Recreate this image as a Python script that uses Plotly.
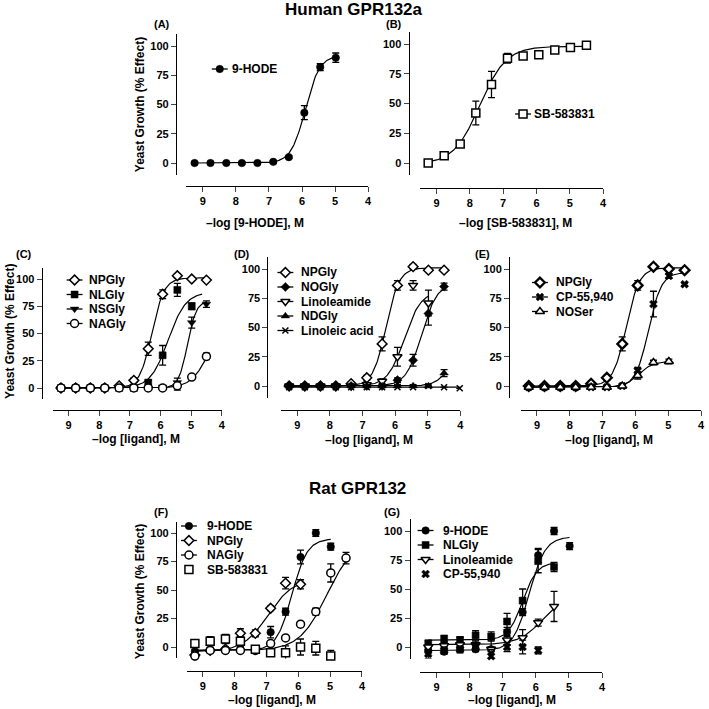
import numpy as np
import plotly.graph_objects as go

W, H = 709, 709
FONT = "Liberation Sans, Arial, sans-serif"

# -log[ligand] (M), 3-fold dilution series
log_conc = [9.25, 8.77, 8.29, 7.82, 7.35, 6.87, 6.40, 5.93, 5.45, 4.98, 4.50]
log_conc_la = [9.25, 8.77, 8.29, 7.82, 7.35, 6.87, 6.40, 5.93, 5.45, 4.98, 4.50, 4.02]

# Human GPR132a
# (A)
a_hode = [0, 0, 0, 0, 0, 1, 5, 43, 82, 90]
a_hode_err = [1, 1, 1, 1, 1, 1, 1, 6, 3, 4]
# (B)
b_sb = [0, 6, 16, 42, 66, 88, 90, 91, 95, 97, 99]
b_sb_err = [1, 1, 2, 10, 11, 4, 2, 2, 2, 2, 2]
# (C)
c_npgly = [0, 0, 0, 0, 2, 7, 36, 86, 103, 100, 99]
c_npgly_err = [1, 1, 1, 1, 1, 2, 6, 4, 2, 1, 1]
c_nlgly = [0, 0, 0, 0, 0, 0, 5, 30, 90, 75]
c_nlgly_err = [1, 1, 1, 1, 1, 1, 2, 9, 6, 3]
c_nsgly = [0, 0, 0, 0, 0, 0, 0, 1, 5, 60, 77]
c_nsgly_err = [1, 1, 1, 1, 1, 1, 1, 1, 4, 5, 3]
c_nagly = [0, 0, 0, 0, 0, 0, 0, 0, 2, 10, 29]
c_nagly_err = [1, 1, 1, 1, 1, 1, 1, 1, 4, 2, 3]
# (D)
d_npgly = [0, 0, 0, 0, 2, 7, 36, 86, 102, 99, 99]
d_npgly_err = [1, 1, 1, 1, 1, 2, 6, 4, 2, 1, 1]
d_nogly = [0, 0, 0, 0, 0, 0, 0, 5, 22, 62, 85]
d_nogly_err = [1, 1, 1, 1, 1, 1, 1, 2, 5, 10, 3]
d_linoleamide = [0, 0, 0, 0, 0, 1, 4, 25, 86, 71]
d_linoleamide_err = [1, 1, 1, 1, 1, 1, 2, 8, 4, 11]
d_ndgly = [0, 0, 0, 0, 0, 0, 0, 0, 0, 0, 11]
d_ndgly_err = [1, 1, 1, 1, 1, 1, 1, 1, 1, 1, 3]
d_linoleic = [-1, -1, -1, -1, -1, -1, -1, -1, -1, 0, -1, -2]
d_linoleic_err = [0, 0, 0, 0, 0, 0, 0, 0, 0, 0, 0, 0]
# (E)
e_npgly = [0, 0, 0, 0, 2, 7, 36, 86, 102, 100, 99]
e_npgly_err = [1, 1, 1, 1, 1, 2, 6, 4, 2, 1, 1]
e_cp = [-1, -1, -1, -1, -1, -1, 0, 13, 70, 94, 87]
e_cp_err = [1, 1, 1, 1, 1, 1, 1, 3, 11, 2, 1]
e_noser = [-1, -1, -1, -1, -1, -1, 0, 9, 20, 21]
e_noser_err = [1, 1, 1, 1, 1, 1, 1, 3, 2, 2]

# Rat GPR132
# (F)
f_hode = [-4, -3, -3, -2, -2, 13, 31, 79, 100, 88]
f_hode_err = [2, 2, 2, 2, 2, 5, 3, 6, 3, 3]
f_npgly = [-7, -3, -2, 12, 12, 34, 56, 55]
f_npgly_err = [2, 2, 2, 4, 3, 2, 5, 4]
f_nagly = [-8, -3, -3, -3, -3, 3, 8, 20, 31, 65, 78]
f_nagly_err = [2, 2, 2, 2, 2, 2, 2, 2, 3, 8, 5]
f_sb = [3, 5, 7, 5, -2, -5, -5, 0, -1, -8]
f_sb_err = [3, 4, 4, 4, 3, 3, 6, 7, 6, 5]
# (G)
g_hode = [-3, -4, -2, -2, -2, 13, 30, 79, 100, 87]
g_hode_err = [3, 2, 2, 2, 2, 4, 3, 6, 3, 3]
g_nlgly = [3, 7, 6, 10, 9, 22, 40, 74, 69]
g_nlgly_err = [3, 3, 3, 4, 4, 7, 10, 10, 4]
g_linoleamide = [0, 1, 2, 2, -2, 6, 8, 21, 35]
g_linoleamide_err = [2, 2, 6, 3, 8, 4, 7, 3, 13]
g_cp = [-6, -3, -2, 0, -8, 0, 0, -3]
g_cp_err = [4, 3, 3, 3, 6, 4, 6, 3]

# dose-response fits: (bottom, top, pEC50, hill slope, from, to)
fit_a_hode = (0, 92, 5.90, 2.0, 9.25, 4.98)
fit_b_sb = (-1, 98, 7.70, 1.1, 9.25, 4.50)
fit_npgly = (0, 101, 6.28, 2.16, 9.25, 4.50)
fit_c_nlgly = (0, 88, 5.75, 1.5, 9.25, 4.64)
fit_c_nsgly = (0, 80, 5.12, 3.0, 9.25, 4.50)
fit_c_nagly = (0, 60, 4.45, 1.5, 9.25, 4.50)
fit_d_nogly = (0, 88, 5.19, 1.82, 9.25, 4.50)
fit_d_linoleamide = (0, 81, 5.72, 1.7, 9.25, 4.98)
fit_d_ndgly = (0, 30, 4.35, 2.0, 9.25, 4.50)
fit_d_linoleic = (-1, -1, 5.0, 1.0, 9.25, 4.02)
fit_e_cp = (-1, 97, 5.60, 2.2, 9.25, 4.50)
fit_e_noser = (-1, 21, 5.90, 2.0, 9.25, 4.98)
fit_hode_rat = (-3, 95, 6.20, 1.8, 9.25, 4.98)
fit_f_npgly = (-4, 60, 6.95, 1.1, 9.25, 5.93)
fit_f_nagly = (-3, 95, 5.10, 1.0, 9.25, 4.50)
fit_g_nlgly = (6, 73, 6.40, 2.0, 9.25, 5.45)
fit_g_linoleamide = (2, 45, 5.80, 1.2, 9.25, 5.45)


def hill(x, bottom, top, pec50, slope):
    return bottom + (top - bottom) / (1 + 10 ** ((x - pec50) * slope))


OPEN = dict(color="white", line=dict(color="black", width=1.5))
FILL = dict(color="black", line=dict(color="black", width=0.5))
STYLE = {
    "9-HODE": dict(symbol="circle", size=7.5, **FILL),
    "NPGly": dict(symbol="diamond", size=7.5, **OPEN),
    "NLGly": dict(symbol="square", size=7, **FILL),
    "NSGly": dict(symbol="triangle-down", size=7.5, **FILL),
    "NAGly": dict(symbol="circle", size=8, **OPEN),
    "SB-583831": dict(symbol="square", size=8, **OPEN),
    "NOGly": dict(symbol="diamond", size=7, **FILL),
    "Linoleamide": dict(symbol="triangle-down", size=8, **OPEN),
    "NDGly": dict(symbol="triangle-up", size=7.5, **FILL),
    "Linoleic acid": dict(symbol="x-thin", size=6, color="black", line=dict(color="black", width=1.5)),
    "CP-55,940": dict(symbol="x", size=7, **FILL),
    "NOSer": dict(symbol="triangle-up", size=8, **OPEN),
}
# panel E draws NPGly with a heavier outline
NPGLY_HEAVY = dict(symbol="diamond", size=7.5, color="white", line=dict(color="black", width=2.3))

# panel geometry in pixels: x of tick 9, px per log unit, y-axis line x,
# y of value 0, px per % unit, x-axis line y
panels = [
    dict(lab="(A)", labpos=(163, 24), x9=204, xu=33.25, yline=177, y0=163, yu=1.17, xline=186,
         xtitle="–log [9-HODE], M", xtpos=(256, 223),
         leg=(221, 231, [69]),
         series=[("9-HODE", log_conc[:10], a_hode, a_hode_err, fit_a_hode)]),
    dict(lab="(B)", labpos=(396, 24), x9=439, xu=33.5, yline=411, y0=163, yu=1.19, xline=188,
         xtitle="–log [SB-583831], M", xtpos=(518, 223),
         leg=(526, 535, [114]),
         series=[("SB-583831", log_conc, b_sb, b_sb_err, fit_b_sb)]),
    dict(lab="(C)", labpos=(24, 254), x9=69, xu=30.8, yline=42, y0=388, yu=1.09, xline=410,
         xtitle="–log [ligand], M", xtpos=(137, 439),
         leg=(75, 87, [280, 294.5, 309, 323.5]),
         series=[("NPGly", log_conc, c_npgly, c_npgly_err, fit_npgly),
                 ("NLGly", log_conc[:10], c_nlgly, c_nlgly_err, fit_c_nlgly),
                 ("NSGly", log_conc, c_nsgly, c_nsgly_err, fit_c_nsgly),
                 ("NAGly", log_conc, c_nagly, c_nagly_err, fit_c_nagly)]),
    dict(lab="(D)", labpos=(243, 254), x9=299, xu=32.8, yline=269, y0=386, yu=1.17, xline=410,
         xtitle="–log [ligand], M", xtpos=(371, 440),
         leg=(287, 301, [272.5, 287, 301.5, 316, 330.5]),
         series=[("NPGly", log_conc, d_npgly, d_npgly_err, fit_npgly),
                 ("NOGly", log_conc, d_nogly, d_nogly_err, fit_d_nogly),
                 ("Linoleamide", log_conc[:10], d_linoleamide, d_linoleamide_err, fit_d_linoleamide),
                 ("NDGly", log_conc, d_ndgly, d_ndgly_err, fit_d_ndgly),
                 ("Linoleic acid", log_conc_la, d_linoleic, d_linoleic_err, fit_d_linoleic)]),
    dict(lab="(E)", labpos=(485, 254), x9=540, xu=33.0, yline=512, y0=386, yu=1.17, xline=410,
         xtitle="–log [ligand], M", xtpos=(612, 440),
         leg=(543, 557, [282.5, 297, 311.5]), heavy=True,
         series=[("NPGly", log_conc, e_npgly, e_npgly_err, fit_npgly),
                 ("CP-55,940", log_conc, e_cp, e_cp_err, fit_e_cp),
                 ("NOSer", log_conc[:10], e_noser, e_noser_err, fit_e_noser)]),
    dict(lab="(F)", labpos=(162, 512), x9=204, xu=32.0, yline=177, y0=647, yu=1.14, xline=671,
         xtitle="–log [ligand], M", xtpos=(274, 700),
         leg=(190, 206, [526, 540.5, 555, 569.5]),
         series=[("9-HODE", log_conc[:10], f_hode, f_hode_err, fit_hode_rat),
                 ("NPGly", log_conc[:8], f_npgly, f_npgly_err, fit_f_npgly),
                 ("NAGly", log_conc, f_nagly, f_nagly_err, fit_f_nagly),
                 ("SB-583831", log_conc[:10], f_sb, f_sb_err, None)]),
    dict(lab="(G)", labpos=(394, 512), x9=439, xu=33.3, yline=412, y0=647, yu=1.16, xline=672,
         xtitle="–log [ligand], M", xtpos=(515, 700),
         leg=(428, 443, [530.5, 545, 559.5, 574]),
         series=[("9-HODE", log_conc[:10], g_hode, g_hode_err, fit_hode_rat),
                 ("NLGly", log_conc[:9], g_nlgly, g_nlgly_err, fit_g_nlgly),
                 ("Linoleamide", log_conc[:9], g_linoleamide, g_linoleamide_err, fit_g_linoleamide),
                 ("CP-55,940", log_conc[:8], g_cp, g_cp_err, None)]),
]

XR = (9.5, 4.0)
YR = (-10, 110)

fig = go.Figure()
layout = {}
annotations = []


def px2paper(x, y):
    return x / W, 1 - y / H


def text_note(text, x, y, size, xanchor="center", angle=0):
    ax, ay = px2paper(x, y)
    return dict(text="<b>%s</b>" % text, x=ax, y=ay, xref="paper", yref="paper",
                xanchor=xanchor, yanchor="middle", textangle=angle, showarrow=False,
                font=dict(family=FONT, size=size, color="black"))


tickfont = dict(family=FONT, size=11, color="black", weight="bold")

for i, p in enumerate(panels, start=1):
    sx = "" if i == 1 else str(i)
    x_left = p["x9"] - (XR[0] - 9) * p["xu"]
    x_right = p["x9"] + (9 - XR[1]) * p["xu"]
    y_bot = p["y0"] - YR[0] * p["yu"]
    y_top = p["y0"] - YR[1] * p["yu"]
    layout["xaxis" + sx] = dict(
        domain=[x_left / W, x_right / W], range=list(XR), anchor="free",
        position=1 - p["xline"] / H, tickvals=[9, 8, 7, 6, 5, 4], ticks="outside",
        ticklen=5, tickwidth=1.3, showline=True, linewidth=1.3, linecolor="black",
        showgrid=False, zeroline=False, tickfont=tickfont)
    layout["yaxis" + sx] = dict(
        domain=[1 - y_bot / H, 1 - y_top / H], range=list(YR), anchor="free",
        position=p["yline"] / W, tickvals=[0, 25, 50, 75, 100], ticks="outside",
        ticklen=5, tickwidth=1.3, showline=True, linewidth=1.3, linecolor="black",
        showgrid=False, zeroline=False, tickfont=tickfont)

    def style_of(name):
        if name == "NPGly" and p.get("heavy"):
            return NPGLY_HEAVY
        return STYLE[name]

    for name, xs, ys, err, fit in p["series"]:
        if fit is not None:
            b, t, pe, h, x0, x1 = fit
            xc = np.linspace(x0, x1, 150)
            fig.add_trace(go.Scatter(
                x=xc, y=hill(xc, b, t, pe, h), mode="lines",
                line=dict(color="black", width=1.2), xaxis="x" + sx, yaxis="y" + sx,
                showlegend=False, hoverinfo="skip"))
    for name, xs, ys, err, fit in p["series"]:
        fig.add_trace(go.Scatter(
            x=xs, y=ys, mode="markers", marker=style_of(name), cliponaxis=False,
            error_y=dict(type="data", array=err, color="black", thickness=1.3, width=3.5),
            xaxis="x" + sx, yaxis="y" + sx, showlegend=False, name=name))

    # legend block
    mx, tx, rows = p["leg"]
    for (name, xs, ys, err, fit), ry in zip(p["series"], rows):
        if fit is not None:
            fig.add_trace(go.Scatter(
                x=[mx - 8, mx + 8], y=[ry, ry], mode="lines",
                line=dict(color="black", width=1.3), xaxis="x8", yaxis="y8",
                showlegend=False, hoverinfo="skip"))
        fig.add_trace(go.Scatter(
            x=[mx], y=[ry], mode="markers", marker=style_of(name), xaxis="x8", yaxis="y8",
            showlegend=False, hoverinfo="skip", cliponaxis=False))
        annotations.append(text_note(name, tx, ry, 12, xanchor="left"))

    annotations.append(text_note(p["lab"], *p["labpos"], 11))
    annotations.append(text_note(p["xtitle"], *p["xtpos"], 12))

# overlay canvas for the legend glyphs (pixel coordinates)
layout["xaxis8"] = dict(domain=[0, 1], range=[0, W], visible=False, anchor="y8", fixedrange=True)
layout["yaxis8"] = dict(domain=[0, 1], range=[H, 0], visible=False, anchor="x8", fixedrange=True)

# y-axis titles
for (x, y) in [(141, 105), (10, 331), (141, 592)]:
    annotations.append(text_note("Yeast Growth (% Effect)", x, y, 12, angle=-90))

# group titles
annotations.append(text_note("Human GPR132a", 356, 10, 17))
annotations.append(text_note("Rat GPR132", 360, 488, 17))

fig.update_layout(
    width=W, height=H, margin=dict(l=0, r=0, t=0, b=0),
    plot_bgcolor="rgba(0,0,0,0)", paper_bgcolor="white", showlegend=False,
    annotations=annotations, **layout)

# page body has a default 8px margin; drop it so the figure sits at the window corner
fig.write_html("out.html", config={"displayModeBar": False},
               post_script="document.body.style.margin='0px';")
